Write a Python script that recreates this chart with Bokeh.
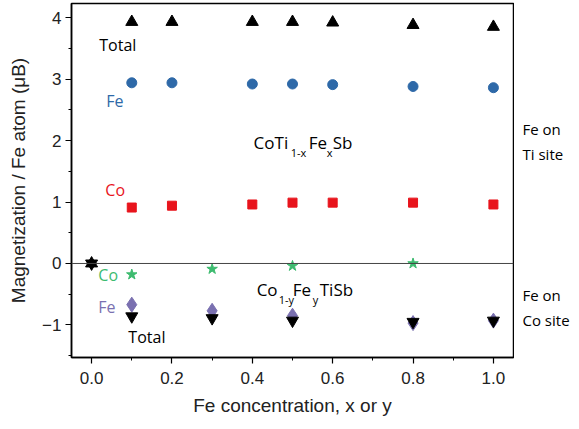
from bokeh.plotting import figure
from bokeh.models import Span, Label, FixedTicker, Range1d
from bokeh.layouts import row
from bokeh.core.properties import value
from bokeh.embed import file_html
from bokeh.resources import INLINE

# ---- data ----
total_ti_x = [0.0, 0.1, 0.2, 0.4, 0.5, 0.6, 0.8, 1.0]
total_ti_y = [0.0, 3.93, 3.93, 3.93, 3.93, 3.92, 3.88, 3.85]
fe_ti_x = [0.1, 0.2, 0.4, 0.5, 0.6, 0.8, 1.0]
fe_ti_y = [2.94, 2.94, 2.92, 2.92, 2.91, 2.88, 2.86]
co_ti_x = [0.1, 0.2, 0.4, 0.5, 0.6, 0.8, 1.0]
co_ti_y = [0.91, 0.94, 0.96, 0.99, 0.99, 0.99, 0.96]
co_co_x = [0.1, 0.3, 0.5, 0.8]
co_co_y = [-0.18, -0.09, -0.04, 0.0]
fe_co_x = [0.1, 0.3, 0.5, 0.8, 1.0]
fe_co_y = [-0.67, -0.77, -0.85, -0.97, -0.93]
total_co_x = [0.0, 0.1, 0.3, 0.5, 0.8, 1.0]
total_co_y = [0.0, -0.86, -0.89, -0.93, -0.95, -0.93]

y_ticks = [-1, 0, 1, 2, 3, 4]
y_minor = [-1.5, -0.5, 0.5, 1.5, 2.5, 3.5]
x_ticks = [0.0, 0.2, 0.4, 0.6, 0.8, 1.0]
x_minor = [0.1, 0.3, 0.5, 0.7, 0.9]

site_labels = ["Fe on", "Ti site", "Fe on", "Co site"]

BLUE = "#2e69a8"
RED = "#e8141c"
GREEN = "#3dbb6f"
PURPLE = "#7a70b0"
AFONT = "Open Sans"

W_MAIN = 514
W_SIDE = 57
H = 421
B_TOP = 3
B_BOT = 64

yr = Range1d(-1.53, 4.23)
p = figure(width=W_MAIN, height=H, output_backend="svg", toolbar_location=None,
           x_range=Range1d(-0.05, 1.05), y_range=yr,
           min_border_left=71, min_border_right=1, min_border_top=B_TOP,
           min_border_bottom=B_BOT)
p.grid.visible = False
p.outline_line_color = "black"
p.outline_line_width = 1.5
p.background_fill_color = "white"
p.border_fill_color = "white"

p.add_layout(Span(location=0, dimension="width", line_color="#444444", line_width=1))

p.scatter(fe_co_x, fe_co_y, marker="diamond", size=15, color=PURPLE)
p.scatter(total_co_x, total_co_y, marker="inverted_triangle", size=12, color="black")
p.scatter(total_ti_x, total_ti_y, marker="triangle", size=12, color="black")
p.scatter(fe_ti_x, fe_ti_y, marker="circle", size=10, color=BLUE)
p.scatter(co_ti_x, co_ti_y, marker="square", size=9, color=RED)
p.scatter(co_co_x, co_co_y, marker="star", size=11, color=GREEN)

for ax in (p.xaxis[0], p.yaxis[0]):
    ax.axis_line_width = 1.5
    ax.major_tick_line_width = 1.2
    ax.minor_tick_line_width = 1
    ax.major_tick_out = 6
    ax.major_tick_in = 0
    ax.minor_tick_out = 3
    ax.minor_tick_in = 0
    ax.major_label_text_font = "Liberation Sans"
    ax.major_label_text_font_size = "17px"
    ax.major_label_text_color = "#222222"
    ax.axis_label_text_font = "Liberation Sans"
    ax.axis_label_text_font_size = "19px"
    ax.axis_label_text_font_style = "normal"
    ax.axis_label_text_color = "#222222"

p.yaxis.ticker = FixedTicker(ticks=y_ticks, minor_ticks=y_minor)
p.xaxis.ticker = FixedTicker(ticks=x_ticks, minor_ticks=x_minor)
p.xaxis.major_label_overrides = {0.0: "0.0", 1.0: "1.0"}
p.yaxis.axis_label = "Magnetization / Fe atom (\u03bcB)"
p.xaxis.axis_label = "Fe concentration, x or y"
p.yaxis.axis_label_standoff = 10
p.xaxis.axis_label_standoff = 8
p.xaxis.major_label_standoff = 8
p.yaxis.major_label_standoff = 4


def px2x(px):
    return (px - 92.3) / 401.0


def py2y(py):
    return (264.0 - py) / 61.7


def lab(text, px, py, color="black", size=16):
    p.add_layout(Label(x=px2x(px), y=py2y(py), text=text, text_color=color,
                       text_font=AFONT, text_font_size=f"{size}px",
                       text_baseline="middle", text_align="left"))


lab("Total", 100, 45)
lab("Fe", 107, 101, BLUE)
lab("Co", 106, 190, RED)
lab("Co", 99, 276, GREEN)
lab("Fe", 99, 308, PURPLE)
lab("Total", 129, 338)

# CoTi1-xFexSb
lab("CoTi", 254, 143, size=17)
lab("1-x", 291, 153, size=11)
lab("Fe", 309, 143, size=17)
lab("x", 327, 153, size=11)
lab("Sb", 333, 143, size=17)

# Co1-yFeyTiSb
lab("Co", 257, 290, size=17)
lab("1-y", 279, 300, size=11)
lab("Fe", 293, 290, size=17)
lab("y", 313, 300, size=11)
lab("TiSb", 320, 290, size=17)

# right-side panel sharing the y range
s = figure(width=W_SIDE, height=H, output_backend="svg", toolbar_location=None,
           x_range=Range1d(0, W_SIDE), y_range=yr,
           min_border_left=0, min_border_right=0, min_border_top=B_TOP,
           min_border_bottom=B_BOT)
s.axis.visible = False
s.grid.visible = False
s.outline_line_color = None
s.background_fill_color = "white"
s.border_fill_color = "white"
side_y = [py2y(129), py2y(154), py2y(296), py2y(321)]
s.text(x=[8, 8, 8, 8], y=side_y, text=site_labels, text_color="black",
       text_font=value(AFONT), text_font_size="15px",
       text_baseline="middle", text_align="left")

layout = row(p, s, spacing=0)
open("out.html", "w").write(file_html(layout, INLINE))
